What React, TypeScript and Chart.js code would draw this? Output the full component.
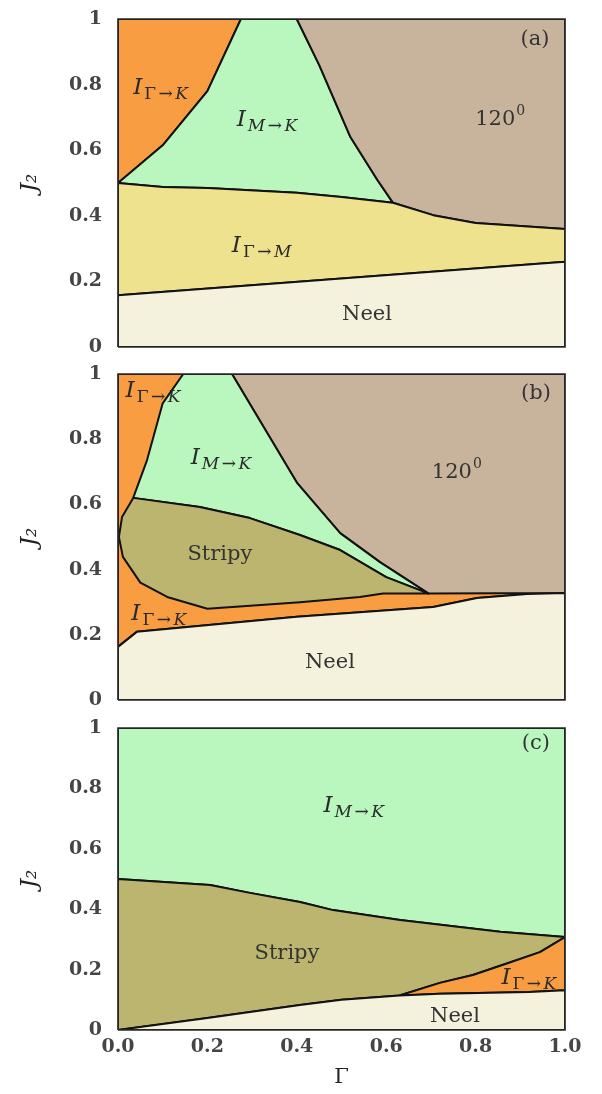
import React, { useEffect, useRef } from 'react';
import { Chart, registerables } from 'chart.js';

Chart.register(...registerables);

type Pt = [number, number];

// ---------- tick labels ----------
const yTickLabels = ['0', '0.2', '0.4', '0.6', '0.8', '1'];
const xTickLabels = ['0.0', '0.2', '0.4', '0.6', '0.8', '1.0'];

// ---------- panel (a) phase regions (Γ, J2) ----------
const aIGammaK: Pt[] = [[0, 0.5], [0.1, 0.615], [0.2, 0.78], [0.275, 1], [0, 1]];
const aIMK: Pt[] = [[0, 0.5], [0.1, 0.615], [0.2, 0.78], [0.275, 1], [0.4, 1], [0.45, 0.86], [0.52, 0.64], [0.58, 0.51], [0.615, 0.44], [0.5, 0.457], [0.4, 0.47], [0.2, 0.485], [0.1, 0.488]];
const a120: Pt[] = [[0.4, 1], [1, 1], [1, 0.36], [0.8, 0.378], [0.705, 0.402], [0.615, 0.44], [0.58, 0.51], [0.52, 0.64], [0.45, 0.86]];
const aIGammaM: Pt[] = [[0, 0.5], [0.1, 0.488], [0.2, 0.485], [0.4, 0.47], [0.5, 0.457], [0.615, 0.44], [0.705, 0.402], [0.8, 0.378], [1, 0.36], [1, 0.26], [0, 0.158]];
const aNeel: Pt[] = [[0, 0.158], [1, 0.26], [1, 0], [0, 0]];

// ---------- panel (b) ----------
const bIGammaK: Pt[] = [[0, 0.163], [0.042, 0.209], [0.4, 0.255], [0.705, 0.285], [0.803, 0.313], [0.915, 0.325], [1, 0.328], [1, 1], [0, 1]];
const b120: Pt[] = [[0.255, 1], [1, 1], [1, 0.328], [0.694, 0.327], [0.586, 0.423], [0.497, 0.512], [0.4, 0.667]];
const bIMK: Pt[] = [[0.146, 1], [0.255, 1], [0.4, 0.667], [0.497, 0.512], [0.586, 0.423], [0.694, 0.327], [0.6, 0.377], [0.497, 0.46], [0.407, 0.506], [0.295, 0.558], [0.183, 0.592], [0.034, 0.62], [0.065, 0.736], [0.1, 0.91]];
const bStripy: Pt[] = [[0.034, 0.62], [0.183, 0.592], [0.295, 0.558], [0.407, 0.506], [0.497, 0.46], [0.6, 0.377], [0.694, 0.327], [0.593, 0.327], [0.541, 0.316], [0.407, 0.3], [0.2, 0.28], [0.11, 0.316], [0.05, 0.36], [0.011, 0.439], [0.002, 0.5], [0.009, 0.561]];
const bNeel: Pt[] = [[0, 0], [1, 0], [1, 0.328], [0.915, 0.325], [0.803, 0.313], [0.705, 0.285], [0.4, 0.255], [0.042, 0.209], [0, 0.163]];

// ---------- panel (c) ----------
const cIMK: Pt[] = [[0, 1], [1, 1], [1, 0.308], [0.855, 0.325], [0.631, 0.364], [0.481, 0.397], [0.407, 0.424], [0.295, 0.454], [0.206, 0.48], [0, 0.5]];
const cStripy: Pt[] = [[0, 0.5], [0.206, 0.48], [0.295, 0.454], [0.407, 0.424], [0.481, 0.397], [0.631, 0.364], [0.855, 0.325], [1, 0.308], [0.944, 0.258], [0.87, 0.22], [0.794, 0.182], [0.72, 0.156], [0.63, 0.114], [0.5, 0.1], [0.407, 0.083], [0.2, 0.04], [0, 0]];
const cIGammaK: Pt[] = [[0.63, 0.114], [0.72, 0.156], [0.794, 0.182], [0.87, 0.22], [0.944, 0.258], [1, 0.308], [1, 0.132], [0.92, 0.126], [0.72, 0.12]];
const cNeel: Pt[] = [[0, 0], [0.2, 0.04], [0.407, 0.083], [0.5, 0.1], [0.63, 0.114], [0.72, 0.12], [0.92, 0.126], [1, 0.132], [1, 0]];

const framePts: Pt[] = [[0, 0], [1, 0], [1, 1], [0, 1]];

// ---------- region labels (data coordinates) ----------
type Lbl = { x: number; y: number; kind: 'sub' | 'sup' | 'plain'; main: string; extra?: string };
const aLabels: Lbl[] = [
  { x: 0.098, y: 0.793, kind: 'sub', main: 'I', extra: 'Γ→K' },
  { x: 0.336, y: 0.695, kind: 'sub', main: 'I', extra: 'M→K' },
  { x: 0.324, y: 0.311, kind: 'sub', main: 'I', extra: 'Γ→M' },
  { x: 0.855, y: 0.704, kind: 'sup', main: '120', extra: '0' },
  { x: 0.557, y: 0.104, kind: 'plain', main: 'Neel' },
  { x: 0.933, y: 0.945, kind: 'plain', main: '(a)' },
];
const bLabels: Lbl[] = [
  { x: 0.081, y: 0.951, kind: 'sub', main: 'I', extra: 'Γ→K' },
  { x: 0.233, y: 0.745, kind: 'sub', main: 'I', extra: 'M→K' },
  { x: 0.228, y: 0.454, kind: 'plain', main: 'Stripy' },
  { x: 0.094, y: 0.267, kind: 'sub', main: 'I', extra: 'Γ→K' },
  { x: 0.758, y: 0.709, kind: 'sup', main: '120', extra: '0' },
  { x: 0.474, y: 0.12, kind: 'plain', main: 'Neel' },
  { x: 0.935, y: 0.945, kind: 'plain', main: '(b)' },
];
const cLabels: Lbl[] = [
  { x: 0.53, y: 0.745, kind: 'sub', main: 'I', extra: 'M→K' },
  { x: 0.378, y: 0.26, kind: 'plain', main: 'Stripy' },
  { x: 0.922, y: 0.175, kind: 'sub', main: 'I', extra: 'Γ→K' },
  { x: 0.754, y: 0.053, kind: 'plain', main: 'Neel' },
  { x: 0.935, y: 0.955, kind: 'plain', main: '(c)' },
];

// ---------- styles ----------
const ORANGE = '#F89D42';
const GREEN = '#BAF7BE';
const BROWN = '#C8B49D';
const YELLOW = '#EEE28E';
const NEEL = '#F4F2DC';
const STRIPY = '#BCB56F';
const FONT = '"DejaVu Serif", serif';

type PanelCfg = {
  top: number;
  height: number;
  padTop: number;
  padBottom: number;
  showX: boolean;
  regions: { pts: Pt[]; color: string }[];
  labels: Lbl[];
};

const panels: PanelCfg[] = [
  {
    top: 0, height: 360, padTop: 19, padBottom: 13, showX: false,
    regions: [
      { pts: aIGammaK, color: ORANGE },
      { pts: aIMK, color: GREEN },
      { pts: a120, color: BROWN },
      { pts: aIGammaM, color: YELLOW },
      { pts: aNeel, color: NEEL },
    ],
    labels: aLabels,
  },
  {
    top: 360, height: 360, padTop: 14, padBottom: 20, showX: false,
    regions: [
      { pts: bIGammaK, color: ORANGE },
      { pts: b120, color: BROWN },
      { pts: bIMK, color: GREEN },
      { pts: bStripy, color: STRIPY },
      { pts: bNeel, color: NEEL },
    ],
    labels: bLabels,
  },
  {
    top: 712, height: 382, padTop: 16, padBottom: 0, showX: true,
    regions: [
      { pts: cIMK, color: GREEN },
      { pts: cStripy, color: STRIPY },
      { pts: cIGammaK, color: ORANGE },
      { pts: cNeel, color: NEEL },
    ],
    labels: cLabels,
  },
];

const toXY = (pts: Pt[], close: boolean) => {
  const arr = pts.map(([x, y]) => ({ x, y }));
  if (close) arr.push({ x: pts[0][0], y: pts[0][1] });
  return arr;
};

function drawSubText(ctx: CanvasRenderingContext2D, text: string, x: number, y: number, size: number, measureOnly: boolean) {
  let cx = x;
  for (const ch of text) {
    const italic = /[A-Z]/.test(ch);
    ctx.font = `${italic ? 'italic ' : ''}${size}px ${FONT}`;
    if (!measureOnly) ctx.fillText(ch, cx, y);
    cx += ctx.measureText(ch).width + 2.5;
  }
  return cx - x;
}

function makeLabelPlugin(labels: Lbl[]) {
  return {
    id: 'regionLabels',
    afterDatasetsDraw(chart: any) {
      const ctx: CanvasRenderingContext2D = chart.ctx;
      const xs = chart.scales.x;
      const ys = chart.scales.y;
      ctx.save();
      ctx.textBaseline = 'alphabetic';
      ctx.textAlign = 'left';
      for (const l of labels) {
        const px = xs.getPixelForValue(l.x);
        const py = ys.getPixelForValue(l.y);
        if (l.kind === 'sub') {
          const ms = 23, ss = 17;
          ctx.font = `italic ${ms}px ${FONT}`;
          ctx.fillStyle = '#2a2a2a';
          const mw = ctx.measureText(l.main).width;
          const sw = drawSubText(ctx, l.extra || '', 0, 0, ss, true);
          const total = mw + 2 + sw;
          const x0 = px - total / 2;
          const base = py + ms * 0.3;
          ctx.font = `italic ${ms}px ${FONT}`;
          ctx.fillText(l.main, x0, base);
          drawSubText(ctx, l.extra || '', x0 + mw + 2, base + ms * 0.22, ss, false);
        } else if (l.kind === 'sup') {
          const ms = 21, ss = 14;
          ctx.fillStyle = '#333';
          ctx.font = `${ms}px ${FONT}`;
          const mw = ctx.measureText(l.main).width;
          ctx.font = `${ss}px ${FONT}`;
          const sw = ctx.measureText(l.extra || '').width;
          const x0 = px - (mw + sw + 1) / 2;
          const base = py + ms * 0.42;
          ctx.font = `${ms}px ${FONT}`;
          ctx.fillText(l.main, x0, base);
          ctx.font = `${ss}px ${FONT}`;
          ctx.fillText(l.extra || '', x0 + mw + 1, base - ms * 0.45);
        } else {
          const ms = 21;
          ctx.fillStyle = '#333';
          ctx.font = `${ms}px ${FONT}`;
          const mw = ctx.measureText(l.main).width;
          ctx.fillText(l.main, px - mw / 2, py + ms * 0.36);
        }
      }
      ctx.restore();
    },
  };
}

function Panel({ cfg }: { cfg: PanelCfg }) {
  const ref = useRef<HTMLCanvasElement>(null);
  useEffect(() => {
    if (!ref.current) return;
    const n = cfg.regions.length;
    const datasets: any[] = cfg.regions.map((r, i) => ({
      type: 'line',
      data: toXY(r.pts, true),
      backgroundColor: r.color,
      borderColor: '#121212',
      borderWidth: 2,
      borderJoinStyle: 'round',
      fill: 'shape',
      pointRadius: 0,
      pointHoverRadius: 0,
      tension: 0,
      order: n - i + 1,
    }));
    datasets.push({
      type: 'line',
      data: toXY(framePts, true),
      borderColor: '#2a2a2a',
      borderWidth: 1.7,
      fill: false,
      pointRadius: 0,
      pointHoverRadius: 0,
      tension: 0,
      clip: false,
      order: 0,
    });
    const tickFont = { family: FONT, size: 19, weight: 'bold' as const };
    const chart = new Chart(ref.current, {
      type: 'line',
      data: { datasets },
      options: {
        animation: false,
        responsive: false,
        events: [],
        layout: { padding: { top: cfg.padTop, right: 37, bottom: cfg.padBottom, left: 0 } },
        plugins: { legend: { display: false }, tooltip: { enabled: false } },
        scales: {
          x: {
            type: 'linear',
            min: 0,
            max: 1,
            display: cfg.showX,
            grid: { display: false, drawTicks: true, tickLength: 6 },
            border: { display: false },
            ticks: {
              stepSize: 0.2,
              autoSkip: false,
              maxRotation: 0,
              padding: 0,
              color: '#454545',
              font: tickFont,
              callback: (_v: any, i: number) => xTickLabels[i],
            },
            title: {
              display: true,
              text: 'Γ',
              color: '#222',
              font: { family: FONT, size: 21 },
              padding: { top: 0, bottom: 4 },
            },
            afterFit: (s: any) => { if (cfg.showX) s.height = 64; },
          },
          y: {
            type: 'linear',
            min: 0,
            max: 1,
            grid: { display: false, drawTicks: true, tickLength: 16 },
            border: { display: false },
            ticks: {
              stepSize: 0.2,
              autoSkip: false,
              padding: 0,
              color: '#454545',
              font: tickFont,
              callback: (_v: any, i: number) => yTickLabels[i],
            },
            title: {
              display: true,
              text: 'J₂',
              color: '#222',
              font: { family: FONT, size: 23, style: 'italic' },
              padding: { top: 16, bottom: 0 },
            },
            afterFit: (s: any) => { s.width = 118; },
          },
        },
      } as any,
      plugins: [makeLabelPlugin(cfg.labels)],
    });
    return () => chart.destroy();
  }, [cfg]);
  return (
    <canvas
      ref={ref}
      width={602}
      height={cfg.height}
      style={{ position: 'absolute', left: 0, top: cfg.top, width: 602, height: cfg.height }}
    />
  );
}

export default function App() {
  return (
    <div style={{ position: 'fixed', left: 0, top: 0, width: 602, height: 1094, background: '#fff', overflow: 'hidden' }}>
      {panels.map((p, i) => (
        <Panel key={i} cfg={p} />
      ))}
    </div>
  );
}
